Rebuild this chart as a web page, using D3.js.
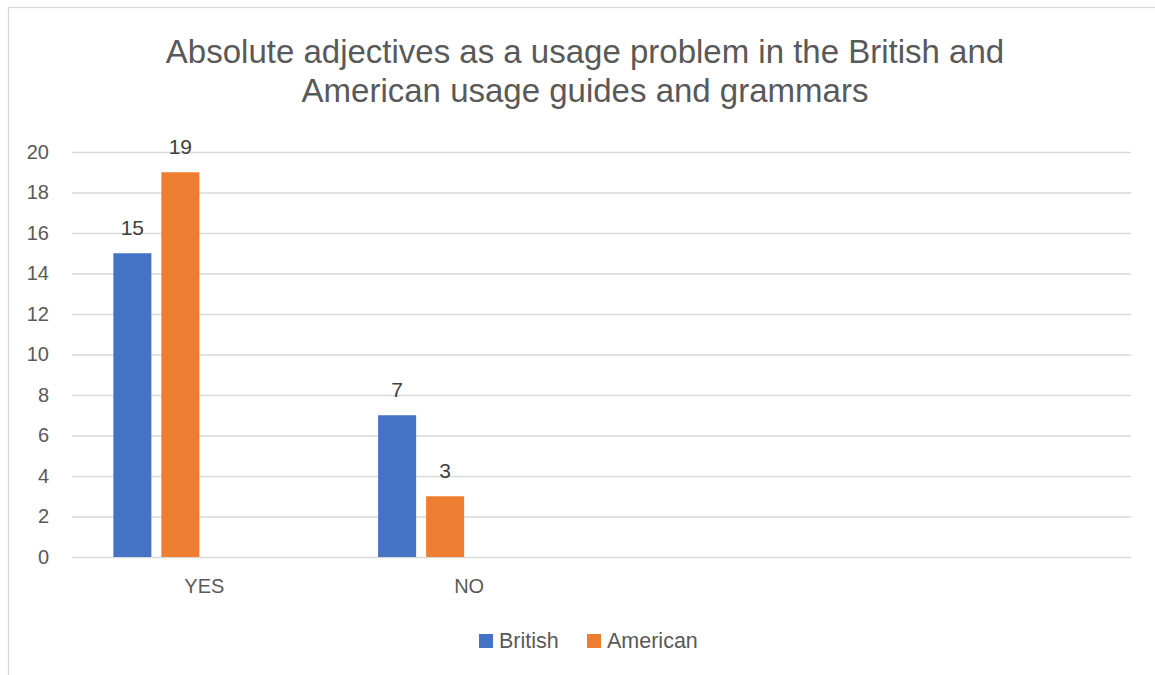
<!DOCTYPE html>
<html>
<head>
<meta charset="utf-8">
<script src="https://cdn.jsdelivr.net/npm/d3@7"></script>
<style>
  html, body { margin: 0; padding: 0; background: #ffffff; }
  svg { display: block; font-family: "Liberation Sans", Arial, sans-serif; }
</style>
</head>
<body>
<svg id="chart" width="1155" height="675"></svg>
<script>
// Category slots along the x axis (the last two are left empty)
const categories = ["YES", "NO", "", ""];
// Series names and their values per category
const seriesNames = ["British", "American"];
const britishValues = [15, 7, null, null];
const americanValues = [19, 3, null, null];
// Value axis ticks
const yTicks = [0, 2, 4, 6, 8, 10, 12, 14, 16, 18, 20];
const titleLines = [
  "Absolute adjectives as a usage problem in the British and",
  "American usage guides and grammars"
];

const colors = { British: "#4472C4", American: "#ED7D31" };
const seriesValues = { British: britishValues, American: americanValues };

const W = 1155, H = 675;
const plot = { left: 72, right: 1131, top: 152, bottom: 557 };

const svg = d3.select("#chart");

// Chart frame (top and left edges are visible)
svg.append("rect")
  .attr("x", 8.5).attr("y", 7.5)
  .attr("width", W).attr("height", H)
  .attr("fill", "#ffffff")
  .attr("stroke", "#d9d9d9")
  .attr("stroke-width", 1.3);

// Title
svg.append("g")
  .selectAll("text")
  .data(titleLines)
  .join("text")
  .attr("x", 585)
  .attr("y", (d, i) => 63 + i * 39)
  .attr("text-anchor", "middle")
  .attr("font-size", 33)
  .attr("fill", "#595959")
  .text(d => d);

// Scales
const x0 = d3.scaleBand()
  .domain(d3.range(categories.length))
  .range([plot.left, plot.right])
  .padding(0);

// Four bar slots per category, only the first two carry series
const slotCount = 4;
const bw = x0.bandwidth();
const groupWidth = bw * 0.6875;
const x1 = d3.scaleBand()
  .domain(d3.range(slotCount))
  .range([(bw - groupWidth) / 2, (bw + groupWidth) / 2])
  .paddingInner(10 / 48)
  .paddingOuter(0);

const y = d3.scaleLinear()
  .domain([0, 20])
  .range([plot.bottom, plot.top]);

// Gridlines
const yAxis = d3.axisLeft(y)
  .tickValues(yTicks)
  .tickSize(-(plot.right - plot.left))
  .tickPadding(23)
  .tickFormat(d3.format("d"));

const gy = svg.append("g")
  .attr("transform", `translate(${plot.left},0)`)
  .call(yAxis);
gy.select(".domain").remove();
gy.selectAll(".tick line")
  .attr("stroke", "#d9d9d9")
  .attr("stroke-width", 1.3);
gy.selectAll(".tick text")
  .attr("font-size", 20)
  .attr("fill", "#595959")
  .attr("font-family", "Liberation Sans, Arial, sans-serif");

// Category labels
const xAxis = d3.axisBottom(x0)
  .tickFormat(i => categories[i])
  .tickSize(0)
  .tickPadding(22);
const gx = svg.append("g")
  .attr("transform", `translate(0,${plot.bottom})`)
  .call(xAxis);
gx.select(".domain").remove();
gx.selectAll(".tick text")
  .attr("font-size", 20)
  .attr("fill", "#595959")
  .attr("font-family", "Liberation Sans, Arial, sans-serif");

// Bars
const rows = [];
categories.forEach((c, ci) => {
  seriesNames.forEach((s, si) => {
    const v = seriesValues[s][ci];
    if (v != null) rows.push({ ci, si, series: s, value: v });
  });
});

const bars = svg.append("g");
bars.selectAll("rect")
  .data(rows)
  .join("rect")
  .attr("x", d => x0(d.ci) + x1(d.si))
  .attr("y", d => y(d.value))
  .attr("width", x1.bandwidth())
  .attr("height", d => y(0) - y(d.value))
  .attr("fill", d => colors[d.series]);

// Value labels
bars.selectAll("text")
  .data(rows)
  .join("text")
  .attr("x", d => x0(d.ci) + x1(d.si) + x1.bandwidth() / 2)
  .attr("y", d => y(d.value) - 18)
  .attr("text-anchor", "middle")
  .attr("font-size", 21)
  .attr("fill", "#404040")
  .text(d => d.value);

// Legend
const legendItems = [
  { name: "British", x: 479 },
  { name: "American", x: 587 }
];
const legend = svg.append("g");
legend.selectAll("rect")
  .data(legendItems)
  .join("rect")
  .attr("x", d => d.x)
  .attr("y", 634)
  .attr("width", 14)
  .attr("height", 14)
  .attr("fill", d => colors[d.name]);
legend.selectAll("text")
  .data(legendItems)
  .join("text")
  .attr("x", d => d.x + 20)
  .attr("y", 648)
  .attr("font-size", 21.5)
  .attr("fill", "#595959")
  .text(d => d.name);
</script>
</body>
</html>
